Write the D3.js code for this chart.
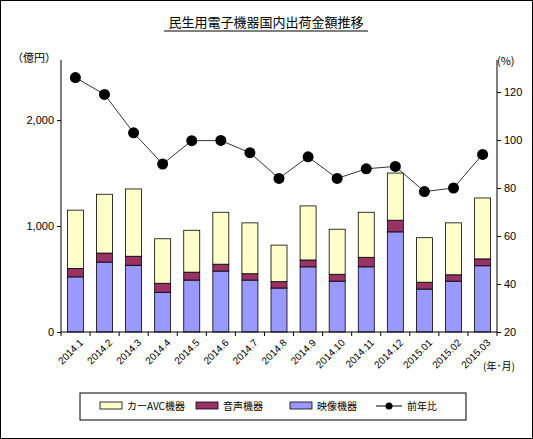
<!DOCTYPE html>
<html><head><meta charset="utf-8">
<script src="https://cdn.jsdelivr.net/npm/d3@7"></script>
<style>body{margin:0;background:#fff}svg{font-family:"Noto Sans CJK JP",sans-serif}</style>
</head><body><div id="chart"></div>
<script>
const months = ["2014.1","2014.2","2014.3","2014.4","2014.5","2014.6","2014.7","2014.8","2014.9","2014.10","2014.11","2014.12","2015.01","2015.02","2015.03"];
const video = [520,660,630,375,490,575,490,415,615,480,615,945,405,480,625];
const audio = [80,85,85,85,75,65,60,60,65,65,90,110,65,60,65];
const carAvc = [550,555,635,420,395,490,480,345,510,425,425,445,420,490,575];
const yoy = [126,119,103,90,99.7,99.8,94.7,84,93,84,88,89,78.5,80,94];
const leftTicks = [0,1000,2000];
const rightTicks = [20,40,60,80,100,120];

const W = 533, H = 439;
const svg = d3.select("#chart").append("svg").attr("width", W).attr("height", H);
svg.append("rect").attr("x",0.5).attr("y",0.5).attr("width",W-1).attr("height",H-1).attr("fill","#fff").attr("stroke","#000");

const m = {l:61, r:497, t:60, b:332};
const x = d3.scaleBand().domain(months).range([m.l, m.r]).paddingInner(0.45).paddingOuter(0.22);
const yL = d3.scaleLinear().domain([0,2567]).range([m.b, m.t]);
const yR = d3.scaleLinear().domain([20,120]).range([m.b, 92]);

svg.append("text").attr("x",266).attr("y",27).attr("text-anchor","middle").attr("font-size",13).text("民生用電子機器国内出荷金額推移");
svg.append("line").attr("x1",164).attr("x2",368).attr("y1",31).attr("y2",31).attr("stroke","#000");

// axes
svg.append("g").attr("transform",`translate(${m.l},0)`)
  .call(d3.axisLeft(yL).tickValues(leftTicks).tickSize(4).tickFormat(d3.format(",")))
  .call(g=>g.select(".domain").attr("d",`M0,${m.b}V${m.t}`))
  .selectAll("text").attr("font-size",11).attr("font-family","Liberation Sans");
svg.append("g").attr("transform",`translate(${m.r},0)`)
  .call(d3.axisRight(yR).tickValues(rightTicks).tickSize(4))
  .call(g=>g.select(".domain").attr("d",`M0,${m.b}V${m.t}`))
  .selectAll("text").attr("font-size",11).attr("font-family","Liberation Sans");
svg.append("text").attr("x",12).attr("y",62).attr("font-size",11).text("（億円）");
svg.append("text").attr("x",497).attr("y",65).attr("font-size",11).text("(%)");

const stack = months.map((mo,i)=>({mo, parts:[[0,video[i],"#9999ff"],[video[i],video[i]+audio[i],"#993366"],[video[i]+audio[i],video[i]+audio[i]+carAvc[i],"#ffffcc"]]}));
const bars = svg.append("g");
stack.forEach(d=>d.parts.forEach(p=>{
  bars.append("rect").attr("x",x(d.mo)).attr("width",x.bandwidth())
    .attr("y",yL(p[1])).attr("height",yL(p[0])-yL(p[1])).attr("fill",p[2]).attr("stroke","#000").attr("stroke-width",0.8);
}));

svg.append("g").attr("transform",`translate(0,${m.b})`)
  .call(d3.axisBottom(x).tickSize(0).tickPadding(8))
  .call(g=>g.select(".domain").attr("d",`M${m.l},0H${m.r}`))
  .selectAll("text").attr("font-size",10).attr("font-family","Liberation Sans")
  .attr("text-anchor","end").attr("transform","rotate(-45)").attr("dx","-2").attr("dy","6");
svg.append("g").selectAll("line").data(d3.range(months.length+1)).join("line")
  .attr("x1",i=>m.l+i*x.step()+ (x.step()*0.22 - x.step()*0.0) - x.step()*0.22 + x.step()*0.22 - x.step()*(0.22) + x.step()*0.22*(i===0?0:0) ).attr("x2",i=>m.l+i*(m.r-m.l)/months.length)
  .attr("x1",i=>m.l+i*(m.r-m.l)/months.length)
  .attr("y1",m.b).attr("y2",m.b+4).attr("stroke","#000");
svg.append("text").attr("x",483).attr("y",370).attr("font-size",10).text("(年･月)");

const line = d3.line().x((d,i)=>x(months[i])+x.bandwidth()/2).y(d=>yR(d));
svg.append("path").datum(yoy).attr("d",line).attr("fill","none").attr("stroke","#333").attr("stroke-width",1);
svg.append("g").selectAll("circle").data(yoy).join("circle")
  .attr("cx",(d,i)=>x(months[i])+x.bandwidth()/2).attr("cy",d=>yR(d)).attr("r",5.5).attr("fill","#000");

// legend
const lg = svg.append("g");
lg.append("rect").attr("x",80).attr("y",393).attr("width",386).attr("height",27).attr("fill","#fff").attr("stroke","#000");
const items = [["カーAVC機器","#ffffcc",100],["音声機器","#993366",196],["映像機器","#9999ff",290]];
items.forEach(([t,c,lx])=>{
  lg.append("rect").attr("x",lx).attr("y",402).attr("width",22).attr("height",7).attr("fill",c).attr("stroke","#000").attr("stroke-width",0.8);
  lg.append("text").attr("x",lx+27).attr("y",410).attr("font-size",10).text(t);
});
lg.append("line").attr("x1",376).attr("x2",402).attr("y1",406).attr("y2",406).attr("stroke","#000");
lg.append("circle").attr("cx",389).attr("cy",406).attr("r",3.5).attr("fill","#000");
lg.append("text").attr("x",407).attr("y",410).attr("font-size",10).text("前年比");
</script></body></html>
